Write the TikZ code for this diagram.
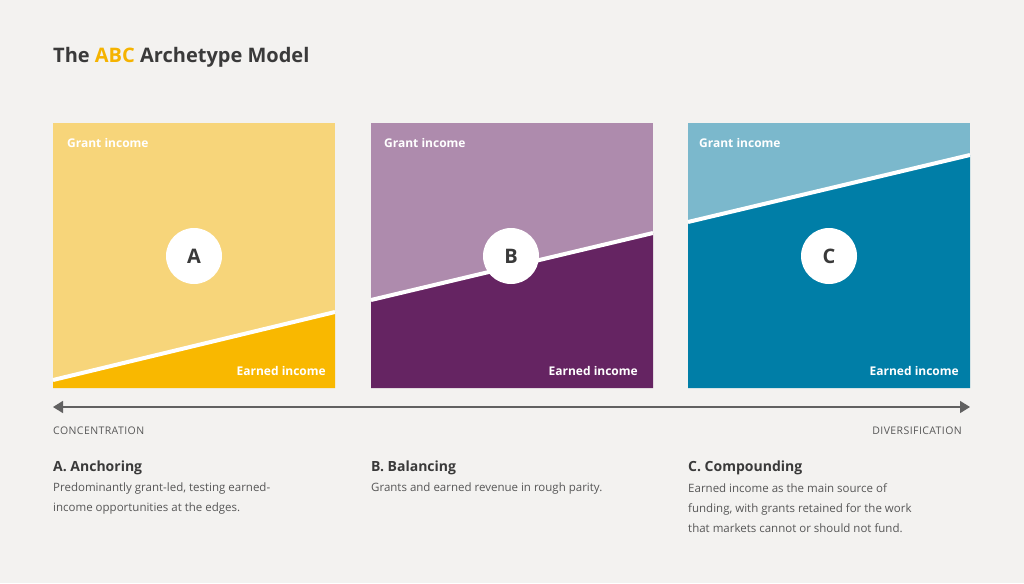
\documentclass[tikz,border=0pt]{standalone}
\usepackage{fontspec}
\setmainfont{Open Sans}
\usetikzlibrary{arrows.meta}
\definecolor{bg}{HTML}{F3F2F0}
\definecolor{txt}{HTML}{3A3A3A}
\definecolor{Al}{HTML}{F7D57A}\definecolor{Ad}{HTML}{F9B800}
\definecolor{Bl}{HTML}{AE8BAD}\definecolor{Bd}{HTML}{652462}
\definecolor{Cl}{HTML}{7BB8CC}\definecolor{Cd}{HTML}{007EA7}
\definecolor{gold}{HTML}{F5B300}
\begin{document}
\begin{tikzpicture}[x=1pt,y=-1pt,
  lab/.style={text=white,font=\fontsize{12}{14}\selectfont\bfseries,inner sep=0pt},
  circ/.style={circle,fill=white,minimum size=56pt,inner sep=0pt,font=\fontsize{20}{22}\selectfont\bfseries,text=txt},
  sep/.style={white,line width=4pt},
  head/.style={anchor=base west,inner sep=0pt,text=txt,font=\fontsize{14}{16}\selectfont\bfseries},
  desc/.style={anchor=north west,inner sep=0pt,text=txt!85,align=left,font=\fontsize{11.5}{20}\selectfont},
  axis/.style={text=txt!85,inner sep=0pt,font=\fontsize{10.5}{12}\selectfont\addfontfeatures{LetterSpace=4}}]
\fill[bg] (0,0) rectangle (1024,583);
\useasboundingbox (0,0) rectangle (1024,583);
\node[anchor=base west,inner sep=0pt,text=txt,font=\fontsize{20}{24}\selectfont\bfseries] (title) at (53,63) {The \textcolor{gold}{ABC} Archetype Model};
% A
\fill[Al] (53,123) rectangle (335,388);
\fill[Ad] (53,380) -- (335,312) -- (335,388) -- (53,388) -- cycle;
\coordinate (a1) at (53,380); \coordinate (a2) at (335,312);
\draw[sep] (a1) -- (a2);
\node[circ] (A) at (194,256) {A};
\node[lab,anchor=base west] (ga) at (67,147) {Grant income};
\node[lab,anchor=base east] (ea) at (326,375) {Earned income};
% B
\fill[Bl] (371,123) rectangle (653,388);
\fill[Bd] (371,300) -- (653,233) -- (653,388) -- (371,388) -- cycle;
\coordinate (b1) at (371,300); \coordinate (b2) at (653,233);
\draw[sep] (b1) -- (b2);
\node[circ] (B) at (511,256) {B};
\node[lab,anchor=base west] (gb) at (384,147) {Grant income};
\node[lab,anchor=base east] (eb) at (638,375) {Earned income};
% C
\fill[Cl] (688,123) rectangle (970,388);
\fill[Cd] (688,222) -- (970,155) -- (970,388) -- (688,388) -- cycle;
\coordinate (c1) at (688,222); \coordinate (c2) at (970,155);
\draw[sep] (c1) -- (c2);
\node[circ] (C) at (829,256) {C};
\node[lab,anchor=base west] (gc) at (699,147) {Grant income};
\node[lab,anchor=base east] (ec) at (959,375) {Earned income};
% axis
\coordinate (l) at (53,407); \coordinate (r) at (970,407);
\draw[txt!80,line width=1.5pt,{Triangle[length=10pt,width=12pt]}-{Triangle[length=10pt,width=12pt]}] (l) -- (r);
\node[axis,anchor=base west] (conc) at (53,434) {CONCENTRATION};
\node[axis,anchor=base east] (div) at (962,434) {DIVERSIFICATION};
% texts
\node[head] (hA) at (53,471) {A. Anchoring};
\node[desc] (dA) at (53,483) {Predominantly grant-led, testing earned-\\income opportunities at the edges.};
\node[head] (hB) at (371,471) {B. Balancing};
\node[desc] (dB) at (371,483) {Grants and earned revenue in rough parity.};
\node[head] (hC) at (688,471) {C. Compounding};
\node[desc] (dC) at (688,483) {Earned income as the main source of\\funding, with grants retained for the work\\that markets cannot or should not fund.};
\end{tikzpicture}
\end{document}
